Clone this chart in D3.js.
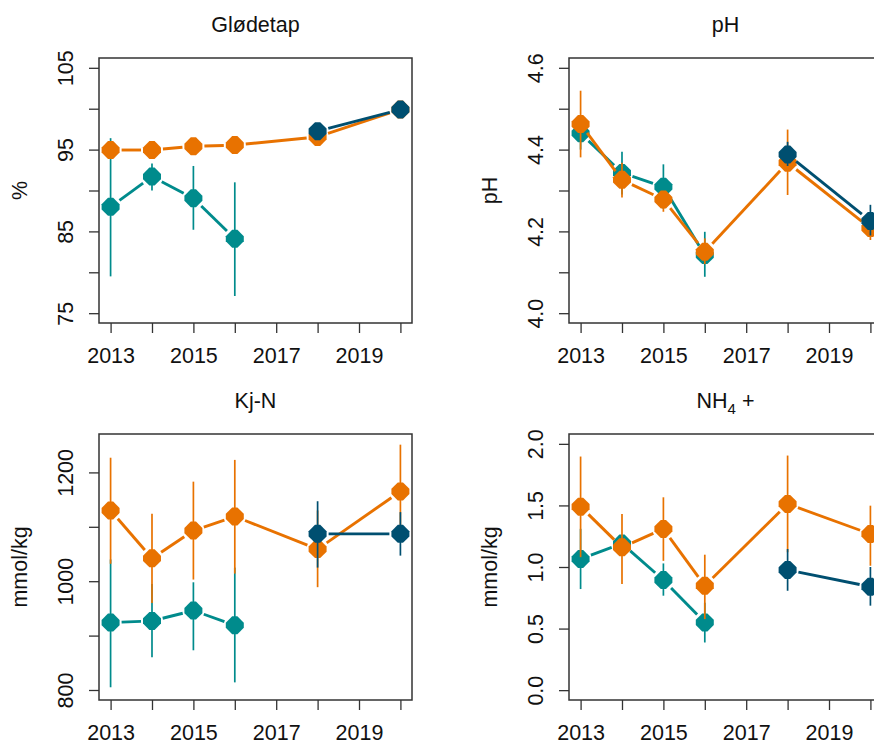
<!DOCTYPE html>
<html>
<head>
<meta charset="utf-8">
<script src="https://cdn.jsdelivr.net/npm/d3@7"></script>
<style>
  body { margin: 0; background: #fff; }
  svg { display: block; font-family: "Liberation Sans", Arial, sans-serif; }
</style>
</head>
<body>
<svg id="chart" width="874" height="742"></svg>
<script>
// Sampling years per series
const yearsEarly = [2013, 2014, 2015, 2016];
const yearsAll = [2013, 2014, 2015, 2016, 2018, 2020];
const yearsLate = [2018, 2020];
const xTickYears = [2013, 2014, 2015, 2016, 2017, 2018, 2019, 2020];
const xTickLabels = [2013, 2015, 2017, 2019];

// Glødetap (%)
const gloEarly = [88.0, 91.7, 89.05, 84.1];
const gloEarlyLo = [79.5, 90.0, 85.2, 77.1];
const gloEarlyHi = [96.4, 93.3, 93.0, 91.0];
const gloAll = [94.95, 94.95, 95.4, 95.55, 96.55, 99.9];
const gloAllLo = [94.6, 94.6, 95.1, 95.2, 96.2, 99.6];
const gloAllHi = [95.3, 95.3, 95.7, 95.9, 96.9, 100.2];
const gloLate = [97.25, 99.9];
const gloLateLo = [96.9, 99.6];
const gloLateHi = [97.6, 100.2];

// pH
const phEarly = [4.44, 4.343, 4.309, 4.142];
const phEarlyLo = [4.40, 4.29, 4.255, 4.089];
const phEarlyHi = [4.48, 4.395, 4.364, 4.199];
const phAll = [4.4625, 4.326, 4.278, 4.150, 4.368, 4.208];
const phAllLo = [4.381, 4.283, 4.248, 4.12, 4.289, 4.179];
const phAllHi = [4.544, 4.368, 4.298, 4.183, 4.449, 4.24];
const phLate = [4.388, 4.2255];
const phLateLo = [4.36, 4.19];
const phLateHi = [4.419, 4.265];

// Kj-N (mmol/kg)
const kjnEarly = [924, 927, 946, 919];
const kjnEarlyLo = [805, 860, 873, 814];
const kjnEarlyHi = [1040, 995, 998, 1025];
const kjnAll = [1130, 1042, 1093, 1119, 1059, 1165];
const kjnAllLo = [1032, 960, 1003, 1014, 989, 1079];
const kjnAllHi = [1227, 1124, 1183, 1223, 1130, 1251];
const kjnLate = [1087, 1087];
const kjnLateLo = [1025, 1047];
const kjnLateHi = [1147, 1127];

// NH4+ (mmol/kg)
const nh4Early = [1.065, 1.19, 0.894, 0.55];
const nh4EarlyLo = [0.821, 1.12, 0.767, 0.387];
const nh4EarlyHi = [1.31, 1.26, 1.029, 0.71];
const nh4All = [1.49, 1.16, 1.309, 0.848, 1.512, 1.268];
const nh4AllLo = [1.08, 0.862, 1.05, 0.577, 1.12, 1.01];
const nh4AllHi = [1.897, 1.43, 1.566, 1.10, 1.905, 1.498];
const nh4Late = [0.976, 0.84];
const nh4LateLo = [0.807, 0.686];
const nh4LateHi = [1.146, 1.0];

const colTeal = "#008B8C";
const colOrange = "#E87200";
const colDark = "#004F70";

const panels = [
  { title: ["Glødetap"], ylab: "%", box: [99, 58, 412, 323],
    yDomain: [73.8, 106.2], yTicks: [75, 80, 85, 90, 95, 100, 105], yLabels: [75, 85, 95, 105], fmt: d3.format("d"),
    series: [
      { years: yearsEarly, v: gloEarly, lo: gloEarlyLo, hi: gloEarlyHi, color: colTeal },
      { years: yearsAll, v: gloAll, lo: gloAllLo, hi: gloAllHi, color: colOrange },
      { years: yearsLate, v: gloLate, lo: gloLateLo, hi: gloLateHi, color: colDark }
    ] },
  { title: ["pH"], ylab: "pH", box: [569, 58, 882, 323],
    yDomain: [3.976, 4.624], yTicks: [4.0, 4.1, 4.2, 4.3, 4.4, 4.5, 4.6], yLabels: [4.0, 4.2, 4.4, 4.6], fmt: d3.format(".1f"),
    series: [
      { years: yearsEarly, v: phEarly, lo: phEarlyLo, hi: phEarlyHi, color: colTeal },
      { years: yearsAll, v: phAll, lo: phAllLo, hi: phAllHi, color: colOrange },
      { years: yearsLate, v: phLate, lo: phLateLo, hi: phLateHi, color: colDark }
    ] },
  { title: ["Kj-N"], ylab: "mmol/kg", box: [99, 434, 412, 700],
    yDomain: [781.6, 1270.6], yTicks: [800, 900, 1000, 1100, 1200], yLabels: [800, 1000, 1200], fmt: d3.format("d"),
    series: [
      { years: yearsEarly, v: kjnEarly, lo: kjnEarlyLo, hi: kjnEarlyHi, color: colTeal },
      { years: yearsAll, v: kjnAll, lo: kjnAllLo, hi: kjnAllHi, color: colOrange },
      { years: yearsLate, v: kjnLate, lo: kjnLateLo, hi: kjnLateHi, color: colDark }
    ] },
  { title: ["NH", "4", " +"], ylab: "mmol/kg", box: [569, 434, 882, 700],
    yDomain: [-0.08, 2.08], yTicks: [0, 0.5, 1.0, 1.5, 2.0], yLabels: [0, 0.5, 1.0, 1.5, 2.0], fmt: d3.format(".1f"),
    series: [
      { years: yearsEarly, v: nh4Early, lo: nh4EarlyLo, hi: nh4EarlyHi, color: colTeal },
      { years: yearsAll, v: nh4All, lo: nh4AllLo, hi: nh4AllHi, color: colOrange },
      { years: yearsLate, v: nh4Late, lo: nh4LateLo, hi: nh4LateHi, color: colDark }
    ] }
];

const svg = d3.select("#chart");
const FS = 21.5;
const GAP = 11;
const marker = "M-2.6,-9L2.6,-9L9,-2.6L9,2.6L2.6,9L-2.6,9L-9,2.6L-9,-2.6Z";

panels.forEach(p => {
  const [x0, y0, x1, y1] = p.box;
  const x = d3.scaleLinear().domain([2012.72, 2020.28]).range([x0, x1]);
  const y = d3.scaleLinear().domain(p.yDomain).range([y1, y0]);
  const g = svg.append("g");

  // title
  const t = g.append("text")
    .attr("x", (x0 + x1) / 2).attr("y", y0 - 26)
    .attr("text-anchor", "middle").attr("font-size", FS).attr("fill", "#111");
  t.append("tspan").text(p.title[0]);
  if (p.title.length > 1) {
    t.append("tspan").attr("font-size", FS * 0.7).attr("dy", 6).text(p.title[1]);
    t.append("tspan").attr("dy", -6).text(p.title[2]);
  }

  // y axis title
  g.append("text")
    .attr("transform", `translate(${x0 - 72},${(y0 + y1) / 2}) rotate(-90)`)
    .attr("text-anchor", "middle").attr("font-size", FS).attr("fill", "#111")
    .text(p.ylab);

  // y axis
  const ya = g.append("g").attr("transform", `translate(${x0},0)`)
    .call(d3.axisLeft(y).tickValues(p.yTicks).tickSize(10).tickSizeOuter(0)
      .tickFormat(d => p.yLabels.some(l => Math.abs(l - d) < 1e-9) ? p.fmt(d) : ""));
  ya.select(".domain").remove();
  ya.selectAll(".tick line").attr("stroke", "#333").attr("stroke-width", 1.3);
  ya.selectAll(".tick text")
    .attr("transform", "rotate(-90)").attr("x", 0).attr("y", -26).attr("dy", 0)
    .attr("text-anchor", "middle").attr("font-size", FS).attr("fill", "#111")
    .attr("font-family", "Liberation Sans, Arial, sans-serif");

  // x axis
  const xa = g.append("g").attr("transform", `translate(0,${y1})`)
    .call(d3.axisBottom(x).tickValues(xTickYears).tickSize(10).tickSizeOuter(0)
      .tickFormat(d => xTickLabels.includes(d) ? String(d) : ""));
  xa.select(".domain").remove();
  xa.selectAll(".tick line").attr("stroke", "#333").attr("stroke-width", 1.3);
  xa.selectAll(".tick text")
    .attr("y", 40).attr("dy", 0).attr("font-size", FS).attr("fill", "#111")
    .attr("font-family", "Liberation Sans, Arial, sans-serif");

  // data layers
  const clipId = "clip" + x0 + "_" + y0;
  svg.append("clipPath").attr("id", clipId).append("rect")
    .attr("x", x0).attr("y", y0).attr("width", x1 - x0).attr("height", y1 - y0);
  const plot = g.append("g").attr("clip-path", `url(#${clipId})`);

  p.series.forEach(s => {
    const pts = s.years.map((yr, i) => ({ yr, v: s.v[i], lo: s.lo[i], hi: s.hi[i] }));
    const sg = plot.append("g");

    // connecting segments with gaps around the points
    const segs = [];
    for (let i = 0; i < pts.length - 1; i++) {
      const ax = x(pts[i].yr), ay = y(pts[i].v);
      const bx = x(pts[i + 1].yr), by = y(pts[i + 1].v);
      const len = Math.hypot(bx - ax, by - ay);
      if (len <= 2 * GAP) continue;
      const ux = (bx - ax) / len, uy = (by - ay) / len;
      segs.push([ax + ux * GAP, ay + uy * GAP, bx - ux * GAP, by - uy * GAP]);
    }
    sg.selectAll("line.seg").data(segs).join("line").attr("class", "seg")
      .attr("x1", d => d[0]).attr("y1", d => d[1]).attr("x2", d => d[2]).attr("y2", d => d[3])
      .attr("stroke", s.color).attr("stroke-width", 2.9).attr("stroke-linecap", "butt");

    // error bars
    sg.selectAll("line.err").data(pts).join("line").attr("class", "err")
      .attr("x1", d => x(d.yr)).attr("x2", d => x(d.yr))
      .attr("y1", d => y(d.lo)).attr("y2", d => y(d.hi))
      .attr("stroke", s.color).attr("stroke-width", 1.7);

    // markers
    sg.selectAll("path.pt").data(pts).join("path").attr("class", "pt")
      .attr("d", marker)
      .attr("transform", d => `translate(${x(d.yr)},${y(d.v)})`)
      .attr("fill", s.color);
  });

  // plot box
  g.append("rect").attr("x", x0).attr("y", y0).attr("width", x1 - x0).attr("height", y1 - y0)
    .attr("fill", "none").attr("stroke", "#333").attr("stroke-width", 1.5);
});
</script>
</body>
</html>
